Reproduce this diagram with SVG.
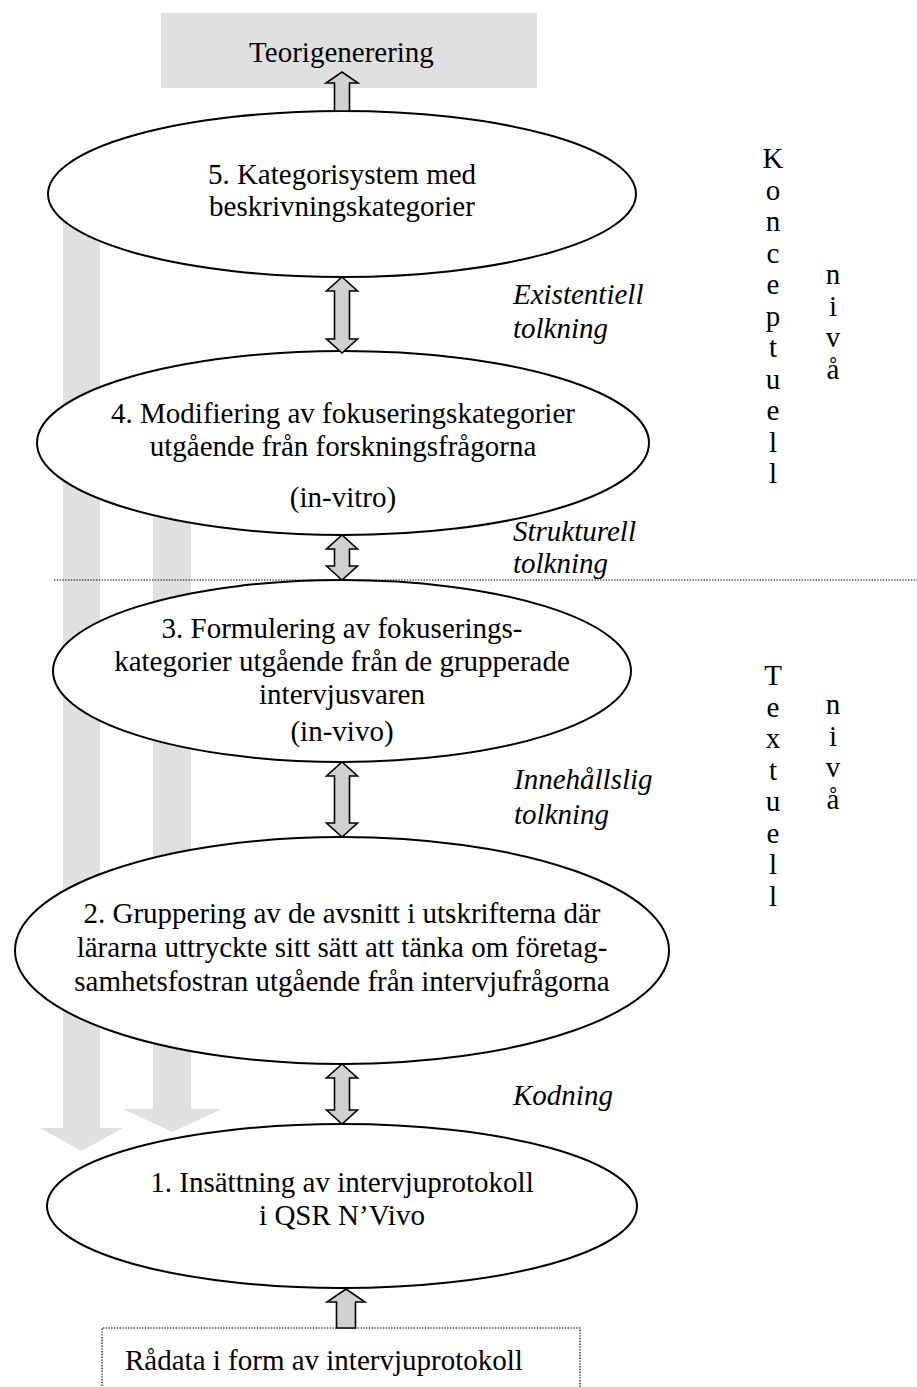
<svg xmlns="http://www.w3.org/2000/svg" width="917" height="1387" viewBox="0 0 917 1387">
  <defs>
    <style>
      .txt { font-family: "Liberation Serif", "Times New Roman", serif; font-size: 29px; fill: #000; }
      .it { font-style: italic; }
      .mid { text-anchor: middle; }
      .node { fill: #ffffff; stroke: #000; stroke-width: 2; }
      .band { fill: #e0e0e0; stroke: none; }
      .arrow { fill: #d0d0d0; stroke: #000; stroke-width: 1.6; stroke-linejoin: miter; }
      .dots { fill: none; stroke: #000; stroke-width: 1.2; stroke-dasharray: 1.4 1.4; }
    </style>
  </defs>
  <rect width="917" height="1387" fill="#ffffff"/>

  <!-- wide grey downward arrows behind the ellipses -->
  <g id="feedback-bands">
    <path class="band" d="M63,200 H100 V1128 H123 L81.5,1151 L40,1128 H63 Z"/>
    <path class="band" d="M153,440 H191 V1109 H222 L172.5,1132 L123,1109 H153 Z"/>
  </g>

  <!-- level divider -->
  <line class="dots" x1="54" y1="580" x2="917" y2="580"/>

  <g id="n-teori">
    <rect x="161" y="13" width="376" height="75" fill="#e0e0e0"/>
    <text class="txt mid" x="341.5" y="62">Teorigenerering</text>
  </g>

  <g id="n5">
    <ellipse class="node" cx="342" cy="194" rx="294" ry="83"/>
    <text class="txt mid" x="342" y="184">5. Kategorisystem med</text>
    <text class="txt mid" x="342" y="216">beskrivningskategorier</text>
  </g>

  <g id="n4">
    <ellipse class="node" cx="343" cy="443" rx="306" ry="92"/>
    <text class="txt mid" x="343" y="423">4. Modifiering av fokuseringskategorier</text>
    <text class="txt mid" x="343" y="456">utgående från forskningsfrågorna</text>
    <text class="txt mid" x="343" y="507">(in-vitro)</text>
  </g>

  <g id="n3">
    <ellipse class="node" cx="342" cy="671" rx="289" ry="91"/>
    <text class="txt mid" x="342" y="638">3. Formulering av fokuserings-</text>
    <text class="txt mid" x="342" y="671">kategorier utgående från de grupperade</text>
    <text class="txt mid" x="342" y="704">intervjusvaren</text>
    <text class="txt mid" x="342" y="741">(in-vivo)</text>
  </g>

  <g id="n2">
    <ellipse class="node" cx="342" cy="950.5" rx="327" ry="113.5"/>
    <text class="txt mid" x="342" y="923">2. Gruppering av de avsnitt i utskrifterna där</text>
    <text class="txt mid" x="342" y="957">lärarna uttryckte sitt sätt att tänka om företag-</text>
    <text class="txt mid" x="342" y="991">samhetsfostran utgående från intervjufrågorna</text>
  </g>

  <g id="n1">
    <ellipse class="node" cx="342" cy="1206" rx="295" ry="82"/>
    <text class="txt mid" x="342" y="1192">1. Insättning av intervjuprotokoll</text>
    <text class="txt mid" x="342" y="1225">i QSR N’Vivo</text>
  </g>

  <g id="n-radata">
    <path class="dots" d="M102,1400 V1328 H580 V1400"/>
    <text class="txt" x="125" y="1370">Rådata i form av intervjuprotokoll</text>
  </g>

  <!-- connectors between the stages -->
  <g id="connectors">
    <path class="arrow" d="M342,72 L358,83 L349.5,83 L349.5,111 L334.5,111 L334.5,83 L326,83 Z"/>
    <path class="arrow" d="M342,277 L357.5,291 L349.5,291 L349.5,339 L357.5,339 L342,353 L326.5,339 L334.5,339 L334.5,291 L326.5,291 Z"/>
    <path class="arrow" d="M342,535 L357.5,549 L349.5,549 L349.5,566 L357.5,566 L342,580 L326.5,566 L334.5,566 L334.5,549 L326.5,549 Z"/>
    <path class="arrow" d="M342,762 L357.5,776 L349.5,776 L349.5,823 L357.5,823 L342,837 L326.5,823 L334.5,823 L334.5,776 L326.5,776 Z"/>
    <path class="arrow" d="M342,1064 L357.5,1078 L349.5,1078 L349.5,1110 L357.5,1110 L342,1124 L326.5,1110 L334.5,1110 L334.5,1078 L326.5,1078 Z"/>
    <path class="arrow" d="M346,1289 L365,1302 L355.5,1302 L355.5,1328 L336.5,1328 L336.5,1302 L327,1302 Z"/>
  </g>

  <g id="connector-labels">
    <text class="txt it" x="513" y="304">Existentiell</text>
    <text class="txt it" x="513" y="338">tolkning</text>
    <text class="txt it" x="513" y="541">Strukturell</text>
    <text class="txt it" x="513" y="573">tolkning</text>
    <text class="txt it" x="514" y="789">Innehållslig</text>
    <text class="txt it" x="514" y="824">tolkning</text>
    <text class="txt it" x="513" y="1105">Kodning</text>
  </g>

  <!-- level captions set letter by letter -->
  <g id="level-konceptuell" class="txt mid">
    <text x="773" y="168">K</text>
    <text x="773" y="199.5">o</text>
    <text x="773" y="231">n</text>
    <text x="773" y="262.5">c</text>
    <text x="773" y="294">e</text>
    <text x="773" y="325.5">p</text>
    <text x="773" y="357">t</text>
    <text x="773" y="388.5">u</text>
    <text x="773" y="420">e</text>
    <text x="773" y="451.5">l</text>
    <text x="773" y="483">l</text>
    <text x="833" y="284">n</text>
    <text x="833" y="315.5">i</text>
    <text x="833" y="347">v</text>
    <text x="833" y="378.5">å</text>
  </g>

  <g id="level-textuell" class="txt mid">
    <text x="773" y="685">T</text>
    <text x="773" y="716.5">e</text>
    <text x="773" y="748">x</text>
    <text x="773" y="779.5">t</text>
    <text x="773" y="811">u</text>
    <text x="773" y="842.5">e</text>
    <text x="773" y="874">l</text>
    <text x="773" y="905.5">l</text>
    <text x="833" y="714">n</text>
    <text x="833" y="745.5">i</text>
    <text x="833" y="777">v</text>
    <text x="833" y="808.5">å</text>
  </g>
</svg>
